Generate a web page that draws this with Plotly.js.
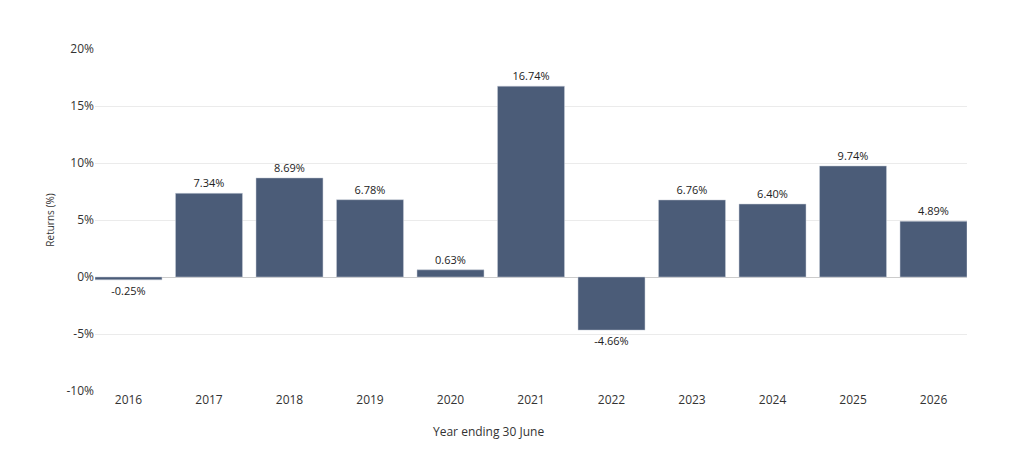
<!DOCTYPE html>
<html>
<head>
<meta charset="utf-8">
<script src="https://cdn.plot.ly/plotly-3.0.1.min.js"></script>
<style>
  html, body { margin: 0; padding: 0; background: #fff; }
  #chart { width: 1013px; height: 450px; }
</style>
</head>
<body>
<div id="chart"></div>
<script>
var years = ["2016", "2017", "2018", "2019", "2020", "2021", "2022", "2023", "2024", "2025", "2026"];
var returns = [-0.25, 7.34, 8.69, 6.78, 0.63, 16.74, -4.66, 6.76, 6.40, 9.74, 4.89];
var yTicks = [-10, -5, 0, 5, 10, 15, 20];
var yTickText = ["-10%", "-5%", "0%", "5%", "10%", "15%", "20%"];

var gap = 0.168;

var data = [
  {
    type: "bar",
    x: years,
    y: returns,
    marker: {
      color: "#4b5c78",
      line: { color: "#c8ced8", width: 0.5 },
    },
    text: returns.map(function (v) { return v.toFixed(2) + "%"; }),
    textposition: "outside",
    textfont: { family: "Open Sans", size: 11, color: "#222" },
    cliponaxis: false,
    hoverinfo: "x+y",
  },
];

var layout = {
  width: 1013,
  height: 450,
  margin: { l: 95, r: 46, t: 49, b: 59 },
  paper_bgcolor: "#fff",
  plot_bgcolor: "#fff",
  font: { family: "Open Sans", size: 12, color: "#333" },
  bargap: gap,
  showlegend: false,
  xaxis: {
    type: "category",
    range: [-(1 - gap) / 2, years.length - 1 + (1 - gap) / 2],
    showgrid: false,
    tickfont: { size: 12, color: "#333" },
  },
  yaxis: {
    range: [-10, 20],
    tickmode: "array",
    tickvals: yTicks,
    ticktext: yTickText,
    gridcolor: "#ebebeb",
    zeroline: true,
    zerolinecolor: "#cccccc",
    zerolinewidth: 1,
    tickfont: { size: 12, color: "#333" },
    title: { text: "Returns (%)", font: { size: 10, color: "#333" }, standoff: 9 },
  },
  // x title sits left of the plot centre in the original, so draw it as an annotation
  annotations: [
    {
      text: "Year ending 30 June",
      xref: "paper",
      yref: "paper",
      x: 0.4507,
      y: -0.119,
      xanchor: "center",
      yanchor: "middle",
      showarrow: false,
      font: { size: 12, color: "#333" },
    },
  ],
};

Plotly.newPlot("chart", data, layout, { displayModeBar: false, responsive: false });
</script>
</body>
</html>
